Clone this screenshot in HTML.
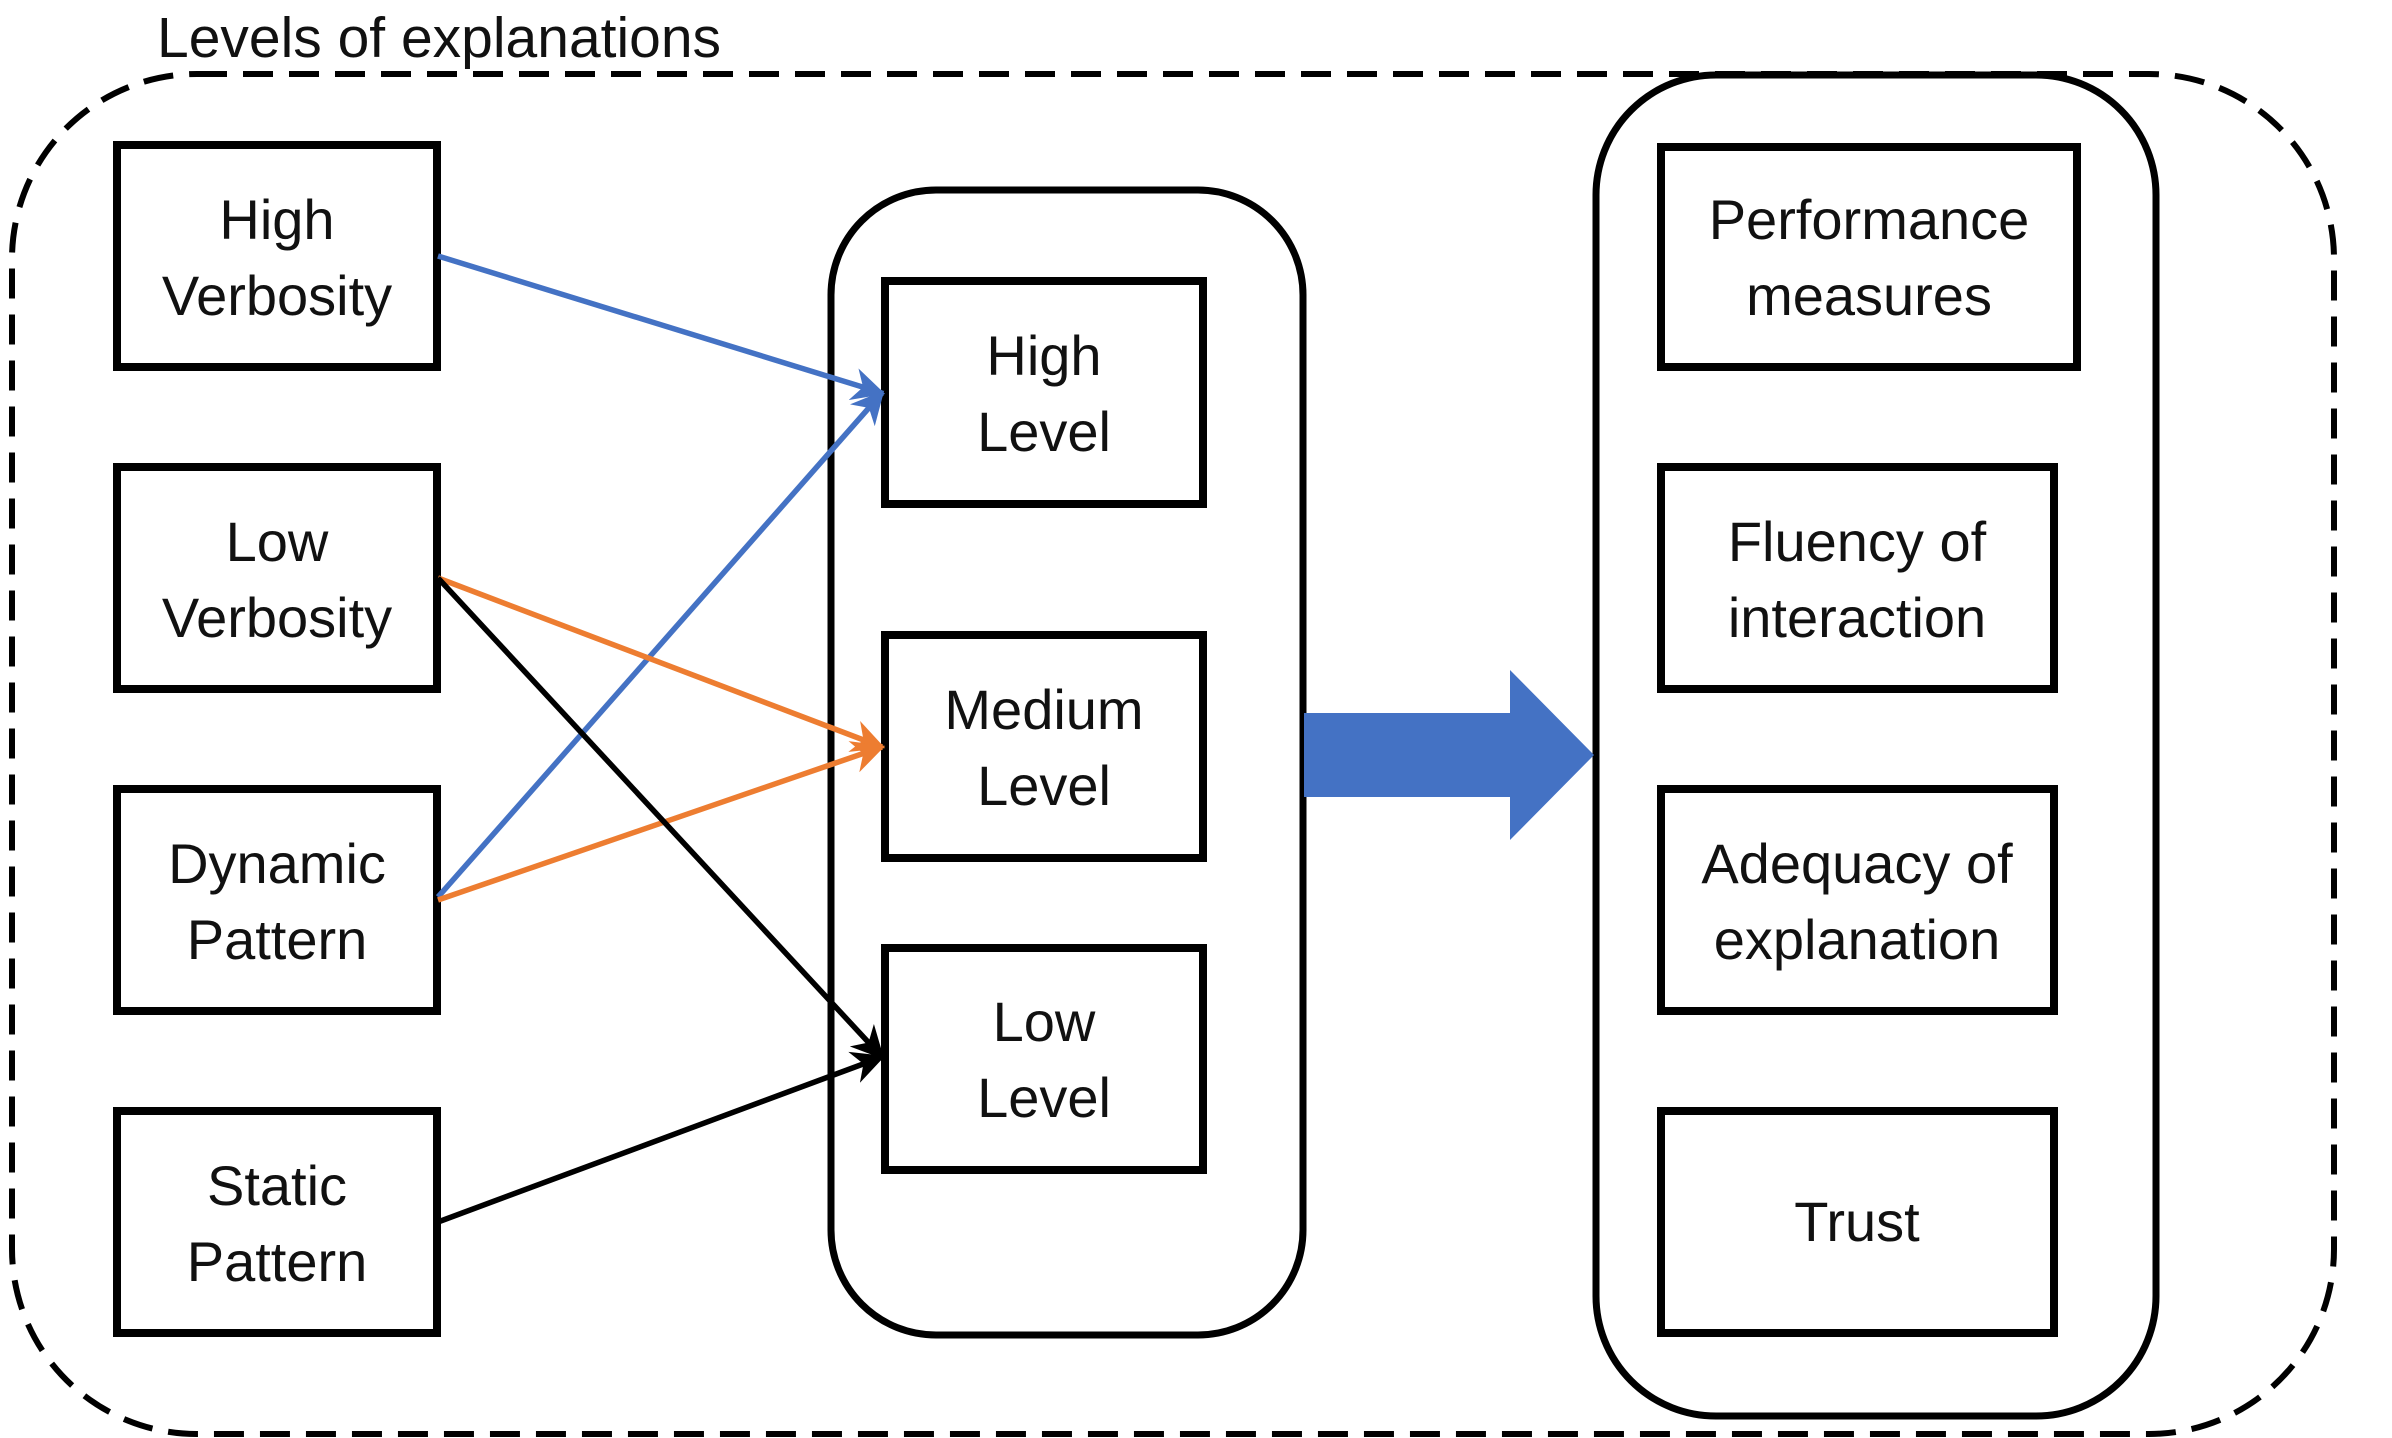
<!DOCTYPE html>
<html><head><meta charset="utf-8"><style>
html,body{margin:0;padding:0;background:#fff;}
svg{display:block;}
text{font-family:"Liberation Sans",sans-serif;font-size:56px;fill:#111;}
</style></head><body>
<svg width="2392" height="1438" viewBox="0 0 2392 1438" xmlns="http://www.w3.org/2000/svg">
<defs>
<marker id="ab" viewBox="0 0 10 10" refX="9" refY="5" markerWidth="6" markerHeight="6" orient="auto" markerUnits="strokeWidth"><path d="M0,0 L10,5 L0,10 L3,5 z" fill="#4472C4"/></marker>
<marker id="ao" viewBox="0 0 10 10" refX="9" refY="5" markerWidth="6" markerHeight="6" orient="auto" markerUnits="strokeWidth"><path d="M0,0 L10,5 L0,10 L3,5 z" fill="#ED7D31"/></marker>
<marker id="ak" viewBox="0 0 10 10" refX="9" refY="5" markerWidth="6" markerHeight="6" orient="auto" markerUnits="strokeWidth"><path d="M0,0 L10,5 L0,10 L3,5 z" fill="#000"/></marker>
</defs>
<text x="157" y="57" style="font-size:57px">Levels of explanations</text>
<rect x="12" y="74" width="2322" height="1360" rx="185" ry="185" fill="none" stroke="#000" stroke-width="6" stroke-dasharray="30 16"/>
<rect x="831" y="190" width="472" height="1145" rx="105" ry="105" fill="none" stroke="#000" stroke-width="7"/>
<rect x="1596" y="75" width="560" height="1341" rx="120" ry="120" fill="none" stroke="#000" stroke-width="7"/>
<g fill="none" stroke="#000" stroke-width="8">
<rect x="117" y="145" width="320" height="222"/>
<rect x="117" y="467" width="320" height="222"/>
<rect x="117" y="789" width="320" height="222"/>
<rect x="117" y="1111" width="320" height="222"/>
<rect x="885" y="281" width="318" height="223"/>
<rect x="885" y="635" width="318" height="223"/>
<rect x="885" y="948" width="318" height="222"/>
<rect x="1661" y="147" width="416" height="220"/>
<rect x="1661" y="467" width="393" height="222"/>
<rect x="1661" y="789" width="393" height="222"/>
<rect x="1661" y="1111" width="393" height="222"/>
</g>
<g text-anchor="middle">
<text x="277" y="239">High</text><text x="277" y="315">Verbosity</text>
<text x="277" y="561">Low</text><text x="277" y="637">Verbosity</text>
<text x="277" y="883">Dynamic</text><text x="277" y="959">Pattern</text>
<text x="277" y="1205">Static</text><text x="277" y="1281">Pattern</text>
<text x="1044" y="375">High</text><text x="1044" y="451">Level</text>
<text x="1044" y="729">Medium</text><text x="1044" y="805">Level</text>
<text x="1044" y="1041">Low</text><text x="1044" y="1117">Level</text>
<text x="1869" y="239">Performance</text><text x="1869" y="315">measures</text>
<text x="1857" y="561">Fluency of</text><text x="1857" y="637">interaction</text>
<text x="1857" y="883">Adequacy of</text><text x="1857" y="959">explanation</text>
<text x="1857" y="1241">Trust</text>
</g>
<g stroke-width="5.5" fill="none">
<line x1="438" y1="256" x2="882" y2="393" stroke="#4472C4" marker-end="url(#ab)"/>
<line x1="438" y1="897" x2="882" y2="393" stroke="#4472C4" marker-end="url(#ab)"/>
<line x1="438" y1="578" x2="882" y2="747" stroke="#ED7D31" marker-end="url(#ao)"/>
<line x1="438" y1="900" x2="882" y2="747" stroke="#ED7D31" marker-end="url(#ao)"/>
<line x1="438" y1="578" x2="882" y2="1057" stroke="#000" marker-end="url(#ak)"/>
<line x1="438" y1="1222" x2="882" y2="1057" stroke="#000" marker-end="url(#ak)"/>
</g>
<polygon points="1304,713 1510,713 1510,670 1594,755 1510,840 1510,797 1304,797" fill="#4472C4"/>
</svg>
</body></html>
